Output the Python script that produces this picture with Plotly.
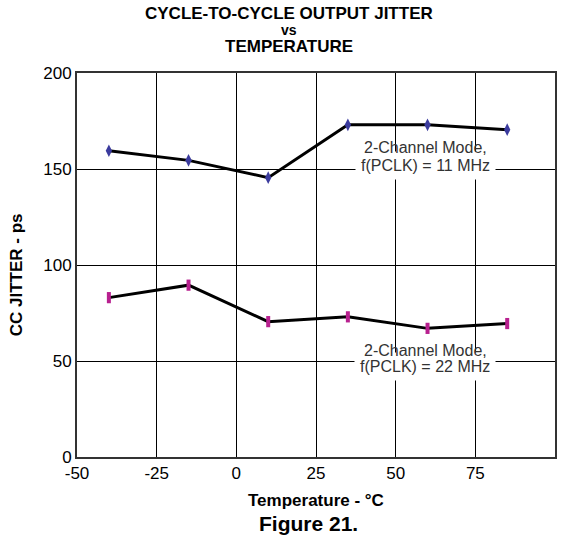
import plotly.graph_objects as go

# Data
temperature_c = [-40, -15, 10, 35, 60, 85]
jitter_11mhz = [159.5, 154.5, 145.5, 173, 173, 170.5]
jitter_22mhz = [83, 89.5, 70.5, 73, 67, 69.5]

x_ticks = [-50, -25, 0, 25, 50, 75, 100]
x_tick_text = ["-50", "-25", "0", "25", "50", "75", "100"]
y_ticks = [0, 50, 100, 150, 200]

FONT = "Liberation Sans, Arial, sans-serif"

fig = go.Figure()
fig.add_trace(go.Scatter(
    x=temperature_c, y=jitter_11mhz, mode="lines+markers",
    line=dict(color="black", width=3),
    marker=dict(symbol="diamond-tall", size=9, color="#3b3b9e",
                line=dict(width=0)),
    showlegend=False))
fig.add_trace(go.Scatter(
    x=temperature_c, y=jitter_22mhz, mode="lines",
    line=dict(color="black", width=3), showlegend=False))
fig.add_trace(go.Scatter(
    x=temperature_c, y=jitter_22mhz, mode="markers",
    marker=dict(symbol="line-ns", size=8, color="#b8208f",
                line=dict(width=4, color="#b8208f")),
    showlegend=False))

axis_common = dict(showgrid=True, gridcolor="black", gridwidth=1,
                   showline=True, linecolor="#333333", linewidth=2,
                   mirror=True, zeroline=False, ticks="",
                   tickfont=dict(family=FONT, size=17, color="black"))

fig.update_xaxes(range=[-50, 100], tickvals=x_ticks, ticktext=x_tick_text,
                 **axis_common)
fig.update_yaxes(range=[0, 200], tickvals=y_ticks, **axis_common)

annotations = [
    dict(text="<b>CYCLE-TO-CYCLE OUTPUT JITTER</b>", x=0.443, y=1.156, size=17),
    dict(text="<b>vs</b>", x=0.443, y=1.112, size=14),
    dict(text="<b>TEMPERATURE</b>", x=0.443, y=1.070, size=17),
    dict(text="<b>Temperature - °C</b>", x=0.499, y=-0.112, size=17),
    dict(text="<b>Figure 21.</b>", x=0.484, y=-0.172, size=21),
]
anns = []
for a in annotations:
    anns.append(dict(text=a["text"], x=a["x"], y=a["y"], xref="paper", yref="paper",
                     xanchor="center", yanchor="middle", showarrow=False,
                     font=dict(family=FONT, size=a["size"], color="black")))
anns.append(dict(text="<b>CC JITTER - ps</b>", x=-0.125, y=0.474, xref="paper",
                 yref="paper", xanchor="center", yanchor="middle", textangle=-90,
                 showarrow=False, font=dict(family=FONT, size=17, color="black")))

# series labels (second line sits on a gridline, so it gets a white box;
# it is listed first so the first line is drawn on top of it)
labels = [
    ("f(PCLK) = 11 MHz", 59.5, 152, True),
    ("2-Channel Mode,", 59.5, 161, False),
    ("f(PCLK) = 22 MHz", 59.3, 47, True),
    ("2-Channel Mode,", 59.3, 55.7, False),
]
for t, xx, yy, box in labels:
    anns.append(dict(text=t, x=xx, y=yy, xref="x", yref="y", showarrow=False,
                     xanchor="center", yanchor="middle",
                     bgcolor="white" if box else "rgba(0,0,0,0)",
                     borderpad=5,
                     font=dict(family=FONT, size=16, color="#333333")))

fig.update_layout(
    width=566, height=544,
    margin=dict(l=77, r=9, t=73, b=87),
    paper_bgcolor="white", plot_bgcolor="white",
    annotations=anns,
)

fig.write_html("out.html", config={"displayModeBar": False},
               post_script="document.body.style.margin='0';")
